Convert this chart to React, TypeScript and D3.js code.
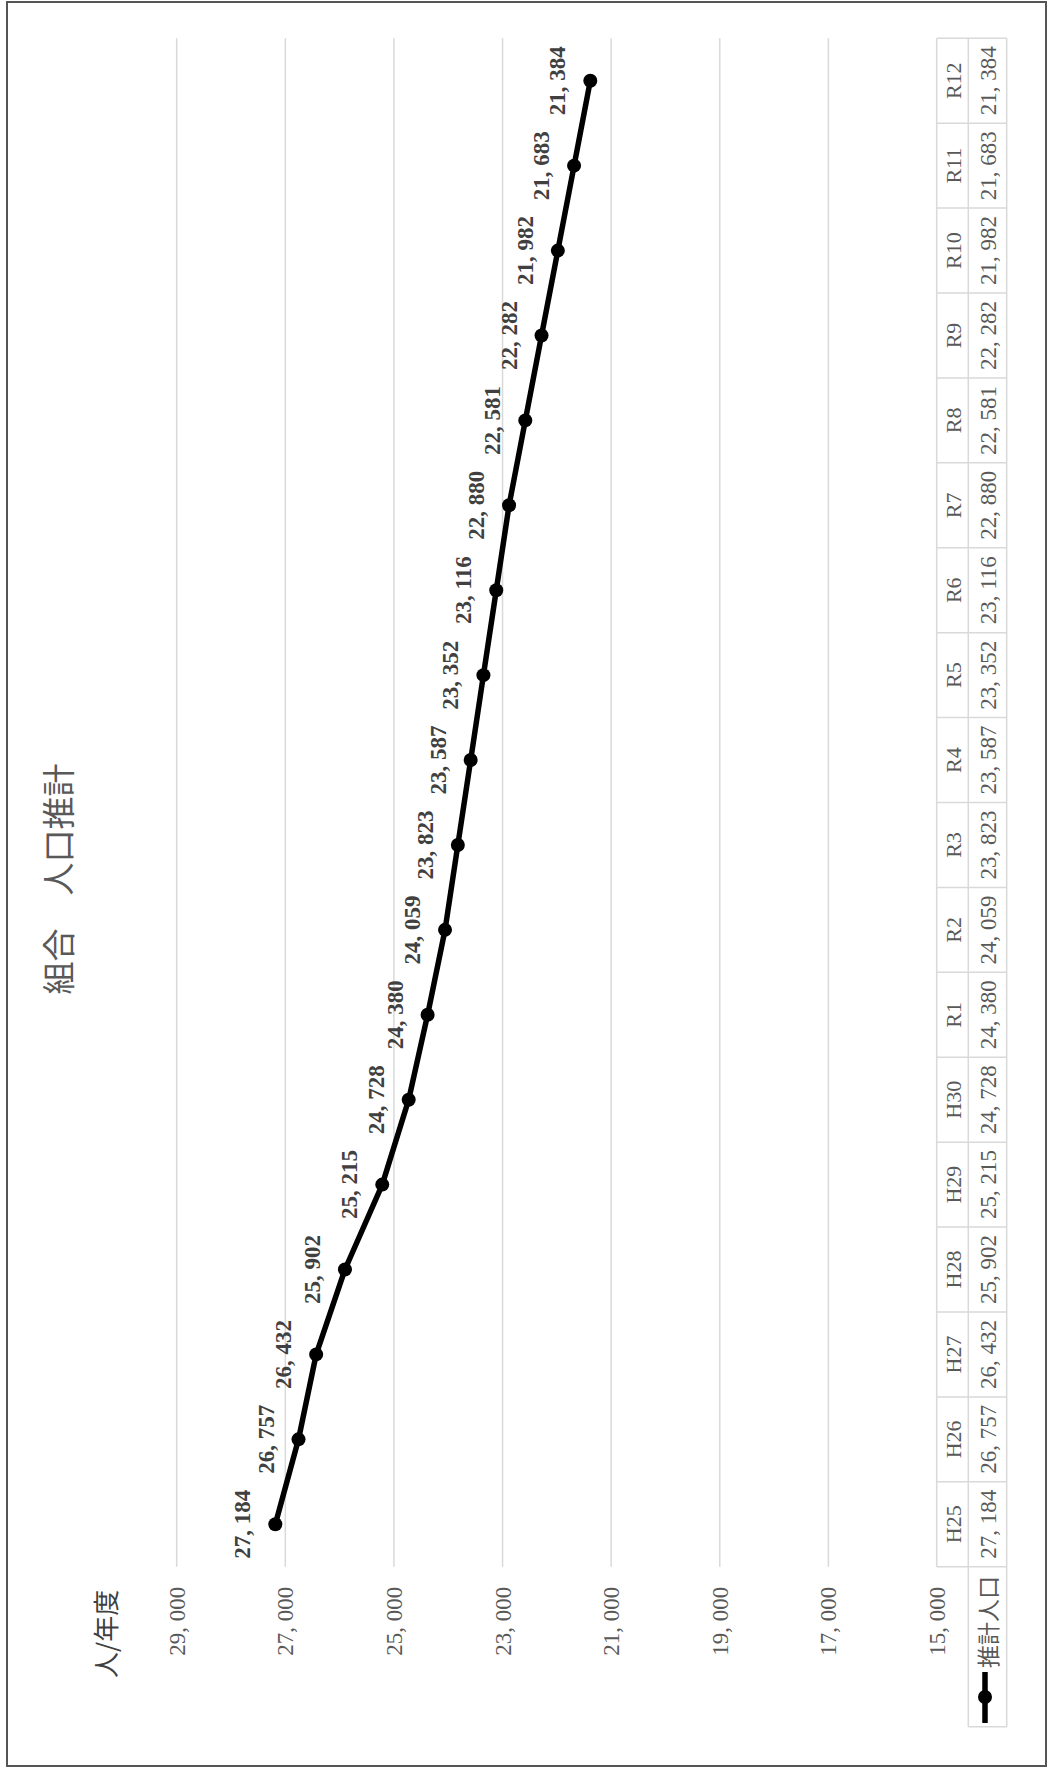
import React from "react";
import * as d3 from "d3";

const categories = ["H25","H26","H27","H28","H29","H30","R1","R2","R3","R4","R5","R6","R7","R8","R9","R10","R11","R12"];
const population = [27184,26757,26432,25902,25215,24728,24380,24059,23823,23587,23352,23116,22880,22581,22282,21982,21683,21384];
const yTicks = [29000,27000,25000,23000,21000,19000,17000,15000];
const title = "組合　人口推計";
const unitLabel = "人/年度";
const seriesName = "推計人口";

const W = 1049;
const H = 1769;

const NUM_FONT = "'Liberation Serif', 'DejaVu Serif', serif";
const CJK_FONT = "'Noto Sans CJK JP', 'Noto Sans', sans-serif";

function Num({ value, ...rest }: any) {
  const s = d3.format(",")(value);
  const idx = s.indexOf(",");
  if (idx < 0) return <text {...rest}>{s}</text>;
  return (
    <text {...rest}>
      <tspan>{s.slice(0, idx + 1)}</tspan>
      <tspan dx="0.25em">{s.slice(idx + 1)}</tspan>
    </text>
  );
}

export default function App() {
  // chart drawn in un-rotated coordinates (u along category axis, v downward), then rotated -90deg
  const u0 = 202.3, u1 = 1730.7;
  const y = d3.scaleLinear().domain([15000, 29000]).range([937, 176.7]);
  const x = d3.scaleBand<string>().domain(categories).range([u0, u1]).paddingInner(0).paddingOuter(0);
  const cx = (c: string) => (x(c) as number) + x.bandwidth() / 2;

  const line = d3.line<number>()
    .x((_, i) => cx(categories[i]))
    .y((d) => y(d));

  const tHead0 = 936.7, tHead1 = 968.3, tVal1 = 1006.7;
  const rowHeadU0 = 42.3;
  const gridColor = "#d9d9d9";
  const textGray = "#595959";

  const boundaries = [...categories.map((c) => x(c) as number), u1];

  return (
    <svg width={W} height={H} style={{ position: "absolute", left: 0, top: 0, background: "#fff" }}>
      <rect x={0} y={0} width={W} height={H} fill="#fff" />
      <g transform={`translate(0, ${H}) rotate(-90)`}>
        {/* chart area border */}
        <rect x={3} y={7} width={1764} height={1039} fill="#fff" stroke="#555" strokeWidth={2} />

        {/* title */}
        <text x={890} y={57} textAnchor="middle" dominantBaseline="central"
          fontFamily={CJK_FONT} fontSize={33} fill={textGray}>{title}</text>

        {/* unit label */}
        <text x={91} y={104} textAnchor="start" dominantBaseline="central"
          fontFamily={CJK_FONT} fontSize={26} fill="#404040">{unitLabel}</text>

        {/* gridlines */}
        {yTicks.filter((t) => t !== 15000).map((t) => (
          <line key={t} x1={u0} x2={u1} y1={y(t)} y2={y(t)} stroke={gridColor} strokeWidth={1.5} />
        ))}

        {/* tick labels */}
        {yTicks.map((t) => (
          <Num key={t} value={t} x={182.3} y={y(t)} textAnchor="end" dominantBaseline="central"
            fontFamily={NUM_FONT} fontSize={23} fill={textGray} />
        ))}

        {/* data table */}
        <g stroke={gridColor} strokeWidth={1.5}>
          <line x1={u0} x2={u1} y1={tHead0} y2={tHead0} />
          <line x1={rowHeadU0} x2={u1} y1={tHead1} y2={tHead1} />
          <line x1={rowHeadU0} x2={u1} y1={tVal1} y2={tVal1} />
          {boundaries.map((b, i) => (
            <line key={i} x1={b} x2={b} y1={tHead0} y2={tVal1} />
          ))}
          <line x1={rowHeadU0} x2={rowHeadU0} y1={tHead1} y2={tVal1} />
        </g>
        {categories.map((c) => (
          <text key={c} x={cx(c)} y={(tHead0 + tHead1) / 2 + 1} textAnchor="middle" dominantBaseline="central"
            fontFamily={NUM_FONT} fontSize={22} fill={textGray}>{c}</text>
        ))}
        {categories.map((c, i) => (
          <Num key={c} value={population[i]} x={cx(c)} y={(tHead1 + tVal1) / 2} textAnchor="middle"
            dominantBaseline="central" fontFamily={NUM_FONT} fontSize={23} fill={textGray} />
        ))}
        {/* row header with legend key */}
        <line x1={46} x2={97} y1={985} y2={985} stroke="#000" strokeWidth={5.5} />
        <circle cx={72} cy={985} r={7} fill="#000" />
        <text x={101} y={987} textAnchor="start" dominantBaseline="central"
          fontFamily={CJK_FONT} fontSize={23} fill={textGray}>{seriesName}</text>

        {/* series line */}
        <path d={line(population) || ""} fill="none" stroke="#000" strokeWidth={5.5} strokeLinejoin="round" />
        {population.map((v, i) => (
          <circle key={i} cx={cx(categories[i])} cy={y(v)} r={7} fill="#000" />
        ))}

        {/* data labels */}
        {population.map((v, i) => (
          <Num key={i} value={v} x={cx(categories[i])} y={y(v) - 33} textAnchor="middle"
            dominantBaseline="central" fontFamily={NUM_FONT} fontWeight="bold" fontSize={23} fill="#404040" />
        ))}
      </g>
    </svg>
  );
}
